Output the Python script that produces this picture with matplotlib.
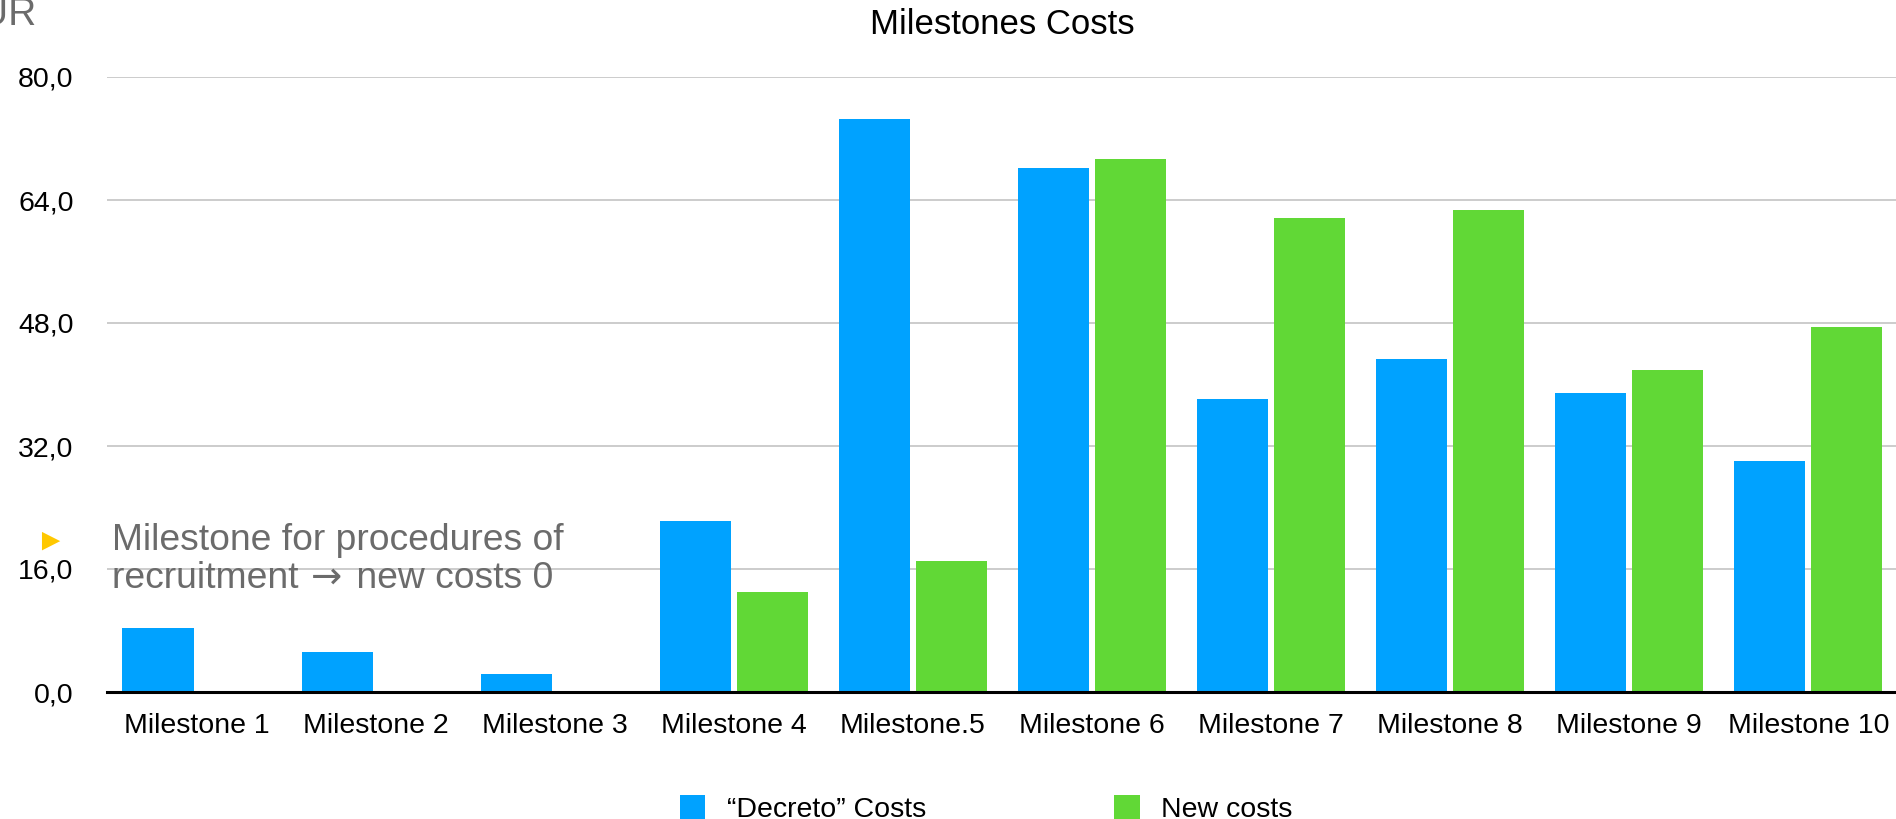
import matplotlib
matplotlib.use("Agg")
import matplotlib.pyplot as plt
import numpy as np
from matplotlib.patches import Patch

categories = ["Milestone 1", "Milestone 2", "Milestone 3", "Milestone 4", "Milestone.5",
              "Milestone 6", "Milestone 7", "Milestone 8", "Milestone 9", "Milestone 10"]
decreto_costs = [8.3, 5.2, 2.35, 22.3, 74.5, 68.1, 38.1, 43.3, 38.9, 30.0]
new_costs = [0, 0, 0, 13.0, 17.1, 69.3, 61.6, 62.7, 41.9, 47.5]
yticks = [0, 16, 32, 48, 64, 80]
ytick_labels = ["0,0", "16,0", "32,0", "48,0", "64,0", "80,0"]
series_names = ["\u201cDecreto\u201d Costs", "New costs"]

BLUE = "#00A2FF"
GREEN = "#61D836"
GRAY_TEXT = "#6B6B6B"

plt.rcParams['font.family'] = ['Liberation Sans', 'DejaVu Sans']

W, H = 1896, 819
fig = plt.figure(figsize=(W / 100, H / 100), dpi=100)
ax = fig.add_axes([107 / W, 1 - 692 / H, 1 - 107 / W + 0.001, (692 - 77) / H])

x = np.arange(len(categories))
bw = 0.397
off = 0.215
ax.bar(x - off, decreto_costs, width=bw, color=BLUE, zorder=3)
ax.bar(x + off, new_costs, width=bw, color=GREEN, zorder=3)

ax.set_xlim(-0.5, len(categories) - 0.5)
ax.set_ylim(0, 80)
ax.set_yticks(yticks)
ax.set_yticklabels(ytick_labels)
ax.set_xticks(x)
ax.set_xticklabels(categories)
ax.tick_params(axis='y', length=0, pad=24, labelsize=20.5, labelcolor='black')
ax.tick_params(axis='x', length=0, pad=15, labelsize=20.5, labelcolor='black')

for s in ['top', 'right', 'left']:
    ax.spines[s].set_visible(False)
ax.spines['bottom'].set_linewidth(2.2)
ax.spines['bottom'].set_color('black')
ax.spines['bottom'].set_zorder(5)
ax.grid(axis='y', color='#C8C8C8', linewidth=1.3, zorder=0)
ax.set_axisbelow(True)

fig.text(1002 / W, 1 - 25 / H, "Milestones Costs", ha='center', va='center',
         fontsize=25, color='black')

fig.text(37 / W, 1 - 25 / H, "EUR", ha='right', va='baseline', fontsize=28, color=GRAY_TEXT)

fig.text(50 / W, 1 - 542 / H, "\u25BA", ha='center', va='center', fontsize=22, color="#FFC800")

# annotation, built from pieces so the arrow can use a larger glyph
fs_ann = 26.8
x0 = 112 / W
y1 = 1 - 550 / H   # baseline line 1
y2 = 1 - 588 / H   # baseline line 2
fig.text(x0, y1, "Milestone for procedures of", ha='left', va='baseline',
         fontsize=fs_ann, color=GRAY_TEXT)
t_a = fig.text(x0, y2, "recruitment ", ha='left', va='baseline', fontsize=fs_ann, color=GRAY_TEXT)
fig.canvas.draw()
r = fig.canvas.get_renderer()
bb = t_a.get_window_extent(r)
t_b = fig.text(bb.x1 / W + 2 / W, y2, "\u2192", ha='left', va='baseline', fontsize=fs_ann,
               color=GRAY_TEXT, family=['DejaVu Sans'])
fig.canvas.draw()
bb2 = t_b.get_window_extent(r)
fig.text(bb2.x1 / W + 4 / W, y2, " new costs 0", ha='left', va='baseline', fontsize=fs_ann, color=GRAY_TEXT)

handles = [Patch(facecolor=BLUE, edgecolor='none'), Patch(facecolor=GREEN, edgecolor='none')]
fig.legend(handles, series_names, loc='center', bbox_to_anchor=(986 / W, 10 / H),
           ncol=2, frameon=False, fontsize=20.5, handlelength=0.9, handleheight=0.9,
           handletextpad=0.75, columnspacing=6.6, borderpad=0, borderaxespad=0)

fig.savefig("out.png", dpi=100)
